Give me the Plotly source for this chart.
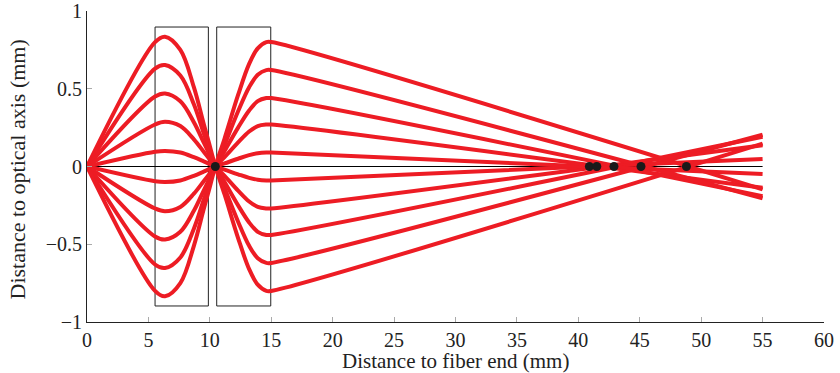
import plotly.graph_objects as go

# Sample positions along the optical axis (mm)
x_pts = [0, 5.54, 6.35, 7.6, 8.7, 9.5, 9.9, 10.45, 11.2, 12.3, 13.2, 13.9, 14.6, 15.0, 55]

# Ray heights (mm) at the sample positions
ray_1 = [0, 0.80, 0.835, 0.75, 0.51, 0.275, 0.16, 0, -0.18, -0.46, -0.66, -0.76, -0.80, -0.80, 0.147]
ray_2 = [0, 0.63, 0.653, 0.585, 0.40, 0.215, 0.125, 0, -0.14, -0.355, -0.51, -0.59, -0.62, -0.62, 0.204]
ray_3 = [0, 0.45, 0.47, 0.42, 0.285, 0.155, 0.09, 0, -0.10, -0.25, -0.36, -0.42, -0.44, -0.44, 0.191]
ray_4 = [0, 0.27, 0.288, 0.26, 0.175, 0.095, 0.055, 0, -0.06, -0.155, -0.225, -0.26, -0.27, -0.27, 0.137]
ray_5 = [0, 0.095, 0.10, 0.09, 0.06, 0.033, 0.019, 0, -0.02, -0.05, -0.073, -0.085, -0.09, -0.09, 0.049]
ray_6 = [0, -0.095, -0.10, -0.09, -0.06, -0.033, -0.019, 0, 0.02, 0.05, 0.073, 0.085, 0.09, 0.09, -0.049]
ray_7 = [0, -0.27, -0.288, -0.26, -0.175, -0.095, -0.055, 0, 0.06, 0.155, 0.225, 0.26, 0.27, 0.27, -0.137]
ray_8 = [0, -0.45, -0.47, -0.42, -0.285, -0.155, -0.09, 0, 0.10, 0.25, 0.36, 0.42, 0.44, 0.44, -0.191]
ray_9 = [0, -0.63, -0.653, -0.585, -0.40, -0.215, -0.125, 0, 0.14, 0.355, 0.51, 0.59, 0.62, 0.62, -0.204]
ray_10 = [0, -0.80, -0.835, -0.75, -0.51, -0.275, -0.16, 0, 0.18, 0.46, 0.66, 0.76, 0.80, 0.80, -0.147]
rays = [ray_1, ray_2, ray_3, ray_4, ray_5, ray_6, ray_7, ray_8, ray_9, ray_10]

# Focal points on the optical axis (mm)
focus_x = [10.45, 40.9, 41.5, 42.9, 45.1, 48.8]
focus_y = [0, 0, 0, 0, 0, 0]

# Optical axis extent
axis_x = [0, 55]
axis_y = [0, 0]

# Lens outlines: (x0, x1, y0, y1)
lens_1 = (5.54, 9.88, -0.897, 0.897)
lens_2 = (10.56, 14.96, -0.897, 0.897)

x_ticks = [0, 5, 10, 15, 20, 25, 30, 35, 40, 45, 50, 55, 60]
y_ticks = [-1, -0.5, 0, 0.5, 1]
x_title = "Distance to fiber end (mm)"
y_title = "Distance to optical axis (mm)"

RED = "#ED1C24"
FONT = "'Liberation Serif', 'DejaVu Serif', serif"
INK = "#222222"

fig = go.Figure()

fig.add_trace(go.Scatter(x=axis_x, y=axis_y, mode="lines",
                         line=dict(color="black", width=1), hoverinfo="skip"))

for r in rays:
    fig.add_trace(go.Scatter(x=x_pts, y=r, mode="lines",
                             line=dict(color=RED, width=4, shape="spline", smoothing=1.0)))

fig.add_trace(go.Scatter(x=focus_x, y=focus_y, mode="markers",
                         marker=dict(color="#1a1a1a", size=9, symbol="circle")))

for (x0, x1, y0, y1) in (lens_1, lens_2):
    fig.add_shape(type="rect", x0=x0, x1=x1, y0=y0, y1=y1,
                  line=dict(color=INK, width=1), layer="below")

fig.add_annotation(text=x_title, xref="paper", yref="paper", x=0.5, y=0,
                   xanchor="center", yanchor="middle", yshift=-39, showarrow=False,
                   font=dict(family=FONT, size=21, color=INK))
fig.add_annotation(text=y_title, xref="paper", yref="paper", x=0, y=0.5,
                   xanchor="center", yanchor="middle", xshift=-70, yshift=-3,
                   textangle=-90, showarrow=False,
                   font=dict(family=FONT, size=22, color=INK))

fig.update_layout(
    width=840, height=373,
    margin=dict(l=87, r=16, t=11, b=51, autoexpand=False),
    paper_bgcolor="white", plot_bgcolor="white",
    showlegend=False,
    font=dict(family=FONT, size=20, color=INK),
)

fig.update_xaxes(
    range=[0, 60], tickvals=x_ticks, ticktext=[str(v) for v in x_ticks],
    tickfont=dict(family=FONT, size=20, color=INK), ticklabeloverflow="allow",
    showgrid=False, zeroline=False, showline=True, linecolor=INK, linewidth=1,
    ticks="inside", ticklen=5, tickcolor="#aaaaaa", tickwidth=1, automargin=False,
)
fig.update_yaxes(
    range=[-1, 1], tickvals=y_ticks, ticktext=["\u22121", "\u22120.5", "0", "0.5", "1"],
    tickfont=dict(family=FONT, size=20, color=INK), ticklabeloverflow="allow",
    showgrid=False, zeroline=False, showline=True, linecolor=INK, linewidth=1,
    ticks="inside", ticklen=5, tickcolor="#aaaaaa", tickwidth=1, automargin=False,
)

fig.write_html("out.html")
